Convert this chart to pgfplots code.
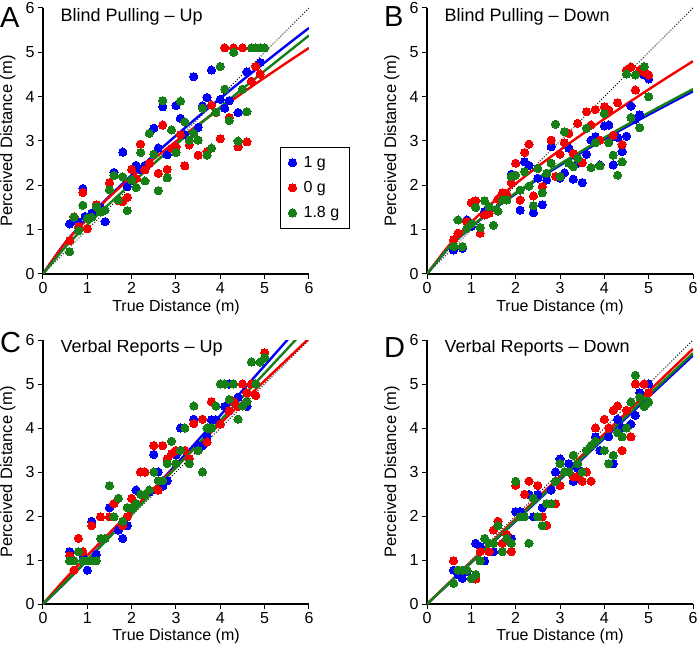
\documentclass[border=0pt]{standalone}
\usepackage{pgfplots}
\pgfplotsset{compat=1.18}
\usepackage{fontspec}
\setmainfont{Liberation Sans}
\definecolor{cb}{RGB}{0,0,245}
\definecolor{cr}{RGB}{245,0,0}
\definecolor{cg}{RGB}{22,128,22}
\pgfplotsset{
  panel/.style={
    scale only axis, width=266pt, height=266pt,
    xmin=0, xmax=6, ymin=0, ymax=6,
    axis lines*=left, axis line style={-, line width=1.1pt},
    xtick={0,...,6}, ytick={0,...,6},
    tick align=outside, major tick length=5pt,
    tick style={black, line width=1pt},
    /pgf/number format/assume math mode=true,
    tick label style={font=\fontsize{16}{16}\selectfont},
    xlabel={True Distance (m)}, ylabel={Perceived Distance (m)},
    every axis x label/.style={at={(axis description cs:0.5,-0.124)}, anchor=center, font=\fontsize{16}{16}\selectfont},
    every axis y label/.style={at={(axis description cs:-0.132,0.5)}, anchor=center, rotate=90, font=\fontsize{16.5}{16.5}\selectfont},
    clip=true,
  },
  dots/.style={only marks, mark=*, mark size=4.1pt, color=#1, mark options={fill=#1, draw=#1, line width=0pt}},
  fit/.style={no marks, color=#1, line width=2.4pt, smooth, forget plot},
  diag/.style={no marks, black, line width=1pt, dash pattern=on 1pt off 1.8pt, forget plot},
}
\newcommand{\ttl}[1]{\node[anchor=base west, font=\fontsize{18}{18}\selectfont] at (axis description cs:0.053,0.951) {#1};}
\begin{document}
\begin{tikzpicture}
\useasboundingbox (0,0) rectangle (697pt,649pt);
% ---------------- A ----------------
\begin{axis}[panel, at={(43pt,375pt)}, anchor=south west,
  legend style={at={(axis description cs:0.891,0.477)}, anchor=north west, draw=black, line width=0.8pt,
    font=\fontsize{16}{19}\selectfont, row sep=8.5pt, column sep=5pt, inner xsep=8pt, inner ysep=7pt, cells={anchor=west}}]
\addplot[dots=cb] coordinates {(0.6,1.13)(0.7,1.2)(0.8,1.18)(0.9,1.93)(0.95,1.3)(1.1,1.37)(1.3,1.5)(1.4,1.18)(1.6,2.29)(1.8,2.75)(1.9,1.97)(2.1,2.45)(2.2,2.35)(2.3,2.45)(2.5,3.29)(2.6,2.84)(2.7,3.77)(2.8,2.69)(3.0,3.8)(3.1,3.51)(3.2,3.14)(3.4,4.45)(3.5,3.31)(3.6,3.79)(3.7,3.98)(3.8,4.6)(4.0,3.94)(4.1,3.74)(4.2,3.91)(4.4,3.64)(4.6,4.56)(4.9,4.77)};
\addlegendentry{1 g}
\addplot[dots=cr] coordinates {(0.6,0.75)(0.7,1.29)(0.8,1.07)(0.9,1.84)(1.0,1.02)(1.2,1.56)(1.5,2.06)(1.7,1.65)(1.8,1.63)(1.9,1.73)(2.0,2.36)(2.1,2.15)(2.2,2.93)(2.3,2.35)(2.4,2.5)(2.6,2.27)(2.7,3.36)(2.8,2.36)(2.9,2.83)(3.0,2.87)(3.1,3.14)(3.2,2.44)(3.3,2.91)(3.5,2.68)(3.7,2.76)(3.8,3.81)(3.9,3.64)(4.0,3.05)(4.1,5.1)(4.3,5.1)(4.5,5.1)(4.2,3.53)(4.4,2.87)(4.6,2.98)(4.7,4.35)(4.8,4.68)(4.9,4.51)};
\addlegendentry{0 g}
\addplot[dots=cg] coordinates {(0.6,0.5)(0.7,1.28)(0.8,0.98)(0.9,1.55)(1.0,1.26)(1.1,1.28)(1.2,1.52)(1.3,1.4)(1.4,1.44)(1.5,1.9)(1.6,2.22)(1.7,1.67)(1.8,2.19)(1.9,1.43)(2.0,2.12)(2.1,1.95)(2.2,2.74)(2.3,2.1)(2.4,3.17)(2.5,2.7)(2.6,1.88)(2.7,3.91)(2.8,2.17)(2.9,3.25)(3.0,2.74)(3.1,3.9)(3.2,3.43)(3.3,3.02)(3.4,3.17)(3.5,3.02)(3.6,3.74)(3.7,2.68)(3.8,2.84)(3.9,3.65)(4.0,4.68)(4.1,4.17)(4.2,3.46)(4.3,5.0)(4.4,3.0)(4.5,4.17)(4.6,3.66)(4.7,5.1)(4.8,5.1)(4.9,5.1)(5.0,5.1)};
\addlegendentry{1.8 g}
\addplot[diag] coordinates {(0,0)(6,6)};
\addplot[fit=cb] coordinates {(0,0)(0.5,0.706)(1,1.254)(1.5,1.756)(2,2.230)(2.5,2.683)(3,3.122)(3.5,3.549)(4,3.964)(4.5,4.371)(5,4.771)(5.5,5.164)(6,5.55)};
\addplot[fit=cr] coordinates {(0,0)(0.5,0.70)(1,1.24)(1.5,1.74)(2,2.188)(2.5,2.598)(3,2.989)(3.5,3.367)(4,3.731)(4.5,4.085)(5,4.430)(5.5,4.768)(6,5.099)};
\addplot[fit=cg] coordinates {(0,0)(0.5,0.604)(1,1.112)(1.5,1.588)(2,2.046)(2.5,2.490)(3,2.923)(3.5,3.348)(4,3.765)(4.5,4.176)(5,4.582)(5.5,4.982)(6,5.380)};
\ttl{Blind Pulling – Up}
\end{axis}
% ---------------- B ----------------
\begin{axis}[panel, at={(427pt,375pt)}, anchor=south west]
\addplot[dots=cb] coordinates {(0.6,0.54)(0.7,0.92)(0.8,0.58)(0.9,1.22)(1.0,1.07)(1.3,1.41)(1.9,2.25)(2.1,1.44)(2.2,2.53)(2.3,2.45)(2.4,1.38)(2.5,2.16)(2.6,1.56)(2.7,2.12)(2.8,2.87)(3.0,2.16)(3.1,2.28)(3.2,2.84)(3.3,2.14)(3.4,2.5)(3.5,2.06)(3.6,2.7)(3.7,3.02)(3.8,3.1)(3.9,2.46)(4.0,3.34)(4.1,3.36)(4.2,3.1)(4.2,2.46)(4.3,3.08)(4.4,2.76)(4.5,3.11)(4.6,3.79)(4.7,3.49)(4.8,3.59)(4.9,4.49)(5.0,4.4)};
\addplot[dots=cr] coordinates {(0.6,0.77)(0.7,0.92)(0.8,0.62)(0.9,1.18)(1.0,1.61)(1.1,1.65)(1.2,0.92)(1.3,1.33)(1.4,1.37)(1.6,1.69)(1.7,1.83)(1.8,1.8)(1.9,2.06)(2.0,2.5)(2.1,1.67)(2.2,2.74)(2.3,2.93)(2.4,1.76)(2.6,1.97)(2.8,3.02)(2.9,2.2)(3.0,2.7)(3.1,2.96)(3.2,3.17)(3.3,2.72)(3.4,3.4)(3.5,2.51)(3.6,3.66)(3.7,3.36)(3.8,3.71)(3.9,3.02)(4.0,3.77)(4.1,3.7)(4.2,3.13)(4.3,3.86)(4.4,2.92)(4.5,4.6)(4.6,4.67)(4.7,4.15)(4.8,4.6)(4.9,4.55)(5.0,4.49)};
\addplot[dots=cg] coordinates {(0.6,0.62)(0.7,1.22)(0.8,0.62)(0.9,1.03)(1.0,1.13)(1.1,1.5)(1.2,1.05)(1.3,1.65)(1.4,1.52)(1.5,1.1)(1.6,1.42)(1.7,1.67)(1.8,1.67)(1.9,2.2)(2.0,2.23)(2.1,1.89)(2.2,2.31)(2.3,1.98)(2.4,1.54)(2.5,2.38)(2.6,1.83)(2.7,2.27)(2.8,2.5)(2.9,3.38)(3.0,2.2)(3.1,3.21)(3.2,2.5)(3.3,2.42)(3.4,2.61)(3.6,3.29)(3.7,2.4)(3.8,2.96)(3.9,2.44)(4.0,3.62)(4.1,2.96)(4.2,2.68)(4.3,2.23)(4.4,2.53)(4.5,4.51)(4.6,3.53)(4.7,4.49)(4.8,3.3)(4.9,4.68)(5.0,4.0)};
\addplot[diag] coordinates {(0,0)(6,6)};
\addplot[fit=cb] coordinates {(0,0)(0.5,0.60)(1,1.06)(1.5,1.457)(2,1.807)(2.5,2.137)(3,2.450)(3.5,2.750)(4,3.040)(4.5,3.320)(5,3.594)(5.5,3.859)(6,4.12)};
\addplot[fit=cr] coordinates {(0,0)(0.5,0.65)(1,1.17)(1.5,1.628)(2,2.037)(2.5,2.425)(3,2.795)(3.5,3.153)(4,3.498)(4.5,3.835)(5,4.163)(5.5,4.485)(6,4.80)};
\addplot[fit=cg] coordinates {(0,0)(0.5,0.61)(1,1.07)(1.5,1.474)(2,1.829)(2.5,2.162)(3,2.479)(3.5,2.783)(4,3.076)(4.5,3.361)(5,3.637)(5.5,3.906)(6,4.17)};
\ttl{Blind Pulling – Down}
\end{axis}
% ---------------- C ----------------
\begin{axis}[panel, height=264pt, at={(43pt,45pt)}, anchor=south west]
\addplot[dots=cb] coordinates {(0.6,1.19)(0.7,0.98)(0.9,1.11)(1.0,0.77)(1.1,1.88)(1.2,1.13)(1.5,2.19)(1.7,1.68)(1.8,1.49)(1.9,1.78)(2.1,2.59)(2.4,2.55)(2.5,3.4)(2.6,3.0)(2.7,2.68)(2.8,2.8)(3.0,3.38)(3.1,4.0)(3.4,4.2)(3.5,3.6)(3.6,3.6)(3.7,3.81)(3.8,4.19)(3.9,4.19)(4.1,4.49)(4.2,5.0)(4.4,4.7)(4.6,4.49)(4.7,5.0)};
\addplot[dots=cr] coordinates {(0.6,1.1)(0.7,0.77)(0.8,1.49)(0.9,1.19)(1.1,1.78)(1.3,1.98)(1.5,1.98)(1.6,2.28)(1.8,1.78)(1.9,1.98)(2.0,2.4)(2.2,3.0)(2.3,3.0)(2.5,3.6)(2.6,2.59)(2.7,3.6)(2.8,3.3)(2.9,3.42)(3.0,3.49)(3.2,3.49)(3.3,3.3)(3.4,4.1)(3.6,4.2)(3.7,3.68)(3.8,4.6)(4.0,4.09)(4.2,4.39)(4.3,4.6)(4.4,4.49)(4.5,5.0)(4.6,4.8)(4.7,5.0)(4.8,4.74)(5.0,5.71)};
\addplot[dots=cg] coordinates {(0.6,0.98)(0.7,0.98)(0.8,1.19)(0.9,0.98)(1.0,0.98)(1.1,0.98)(1.2,0.98)(1.3,1.49)(1.4,1.49)(1.5,2.69)(1.6,1.98)(1.7,2.4)(1.8,1.88)(1.9,2.19)(2.0,2.19)(2.1,2.28)(2.2,2.49)(2.3,2.49)(2.4,2.59)(2.5,3.0)(2.6,2.8)(2.7,2.8)(2.8,3.19)(2.9,3.7)(3.0,3.19)(3.1,3.49)(3.2,4.0)(3.3,3.19)(3.4,4.5)(3.5,3.49)(3.6,3.0)(3.7,4.0)(3.8,4.0)(3.9,4.5)(4.0,5.0)(4.1,5.0)(4.2,4.65)(4.3,5.0)(4.4,4.2)(4.5,4.5)(4.6,4.6)(4.7,5.5)(4.8,5.0)(4.9,5.5)(5.0,5.6)};
\addplot[diag] coordinates {(0,0)(6,6)};
\addplot[fit=cb] coordinates {(0,0)(0.5,0.483)(1,1.0)(2,2.071)(3,3.169)(4,4.287)(5,5.419)(5.5,5.989)(6,6.563)};
\addplot[fit=cr] coordinates {(0,0)(0.5,0.569)(1,1.10)(2,2.125)(3,3.124)(4,4.105)(5,5.075)(6,6.035)};
\addplot[fit=cg] coordinates {(0,0)(0.5,0.490)(1,1.0)(2,2.042)(3,3.101)(4,4.170)(5,5.247)(5.5,5.788)(6,6.331)};
\ttl{Verbal Reports – Up}
\end{axis}
% ---------------- D ----------------
\begin{axis}[panel, height=264pt, at={(427pt,45pt)}, anchor=south west]
\addplot[dots=cb] coordinates {(0.6,0.77)(0.7,0.67)(0.8,0.58)(0.9,0.73)(1.1,1.38)(1.2,1.3)(1.3,0.98)(1.5,1.19)(1.9,1.49)(2.0,2.1)(2.1,2.1)(2.3,2.49)(2.4,1.98)(2.5,2.49)(2.6,2.19)(2.8,2.59)(2.9,3.0)(3.0,3.3)(3.2,3.19)(3.3,2.79)(3.4,3.08)(3.8,3.8)(3.9,3.49)(4.1,3.8)(4.2,3.19)(4.3,4.2)(4.4,4.0)(4.6,4.09)(4.7,4.29)(4.8,4.8)(5.0,5.0)};
\addplot[dots=cr] coordinates {(0.6,0.98)(0.7,0.77)(1.1,0.57)(1.2,1.19)(1.4,1.19)(1.5,1.68)(1.6,1.88)(1.7,1.38)(1.8,1.58)(1.9,1.19)(2.0,2.7)(2.2,2.49)(2.3,2.79)(2.5,2.69)(2.6,1.98)(2.7,1.79)(2.9,2.28)(3.0,2.69)(3.3,2.89)(3.4,2.89)(3.5,2.79)(3.6,3.0)(3.7,2.79)(3.8,4.0)(4.0,4.2)(4.1,4.0)(4.2,4.4)(4.3,4.5)(4.4,3.49)(4.5,4.4)(4.6,3.8)(4.7,5.0)(4.9,5.0)(5.0,4.8)};
\addplot[dots=cg] coordinates {(0.6,0.47)(0.7,0.77)(0.8,0.77)(0.9,0.77)(1.0,0.58)(1.1,0.67)(1.2,0.98)(1.3,1.49)(1.4,1.38)(1.5,1.38)(1.6,1.78)(1.7,1.19)(1.8,1.49)(1.9,1.38)(2.0,2.79)(2.1,1.98)(2.2,1.98)(2.3,1.38)(2.4,2.4)(2.5,1.98)(2.6,1.78)(2.7,2.28)(2.8,2.28)(2.9,2.79)(3.0,3.19)(3.1,3.0)(3.2,3.0)(3.3,3.38)(3.4,3.19)(3.5,3.0)(3.6,3.49)(3.7,3.6)(3.8,3.7)(4.0,3.49)(4.1,3.19)(4.2,3.38)(4.3,3.89)(4.4,3.8)(4.5,4.0)(4.6,4.59)(4.7,5.2)(4.8,4.7)(4.9,4.49)(5.0,4.59)};
\addplot[diag] coordinates {(0,0)(6,6)};
\addplot[fit=cb] coordinates {(0,0)(3,2.825)(6,5.65)};
\addplot[fit=cr] coordinates {(0,0)(3,2.9)(6,5.8)};
\addplot[fit=cg] coordinates {(0,0)(3,2.85)(6,5.7)};
\ttl{Verbal Reports – Down}
\end{axis}
% panel letters
\node[anchor=base west, inner sep=0pt, font=\fontsize{29}{29}\selectfont] at (0pt,621pt) {A};
\node[anchor=base west, inner sep=0pt, font=\fontsize{29}{29}\selectfont] at (384pt,622pt) {B};
\node[anchor=base west, inner sep=0pt, font=\fontsize{29}{29}\selectfont] at (0pt,296pt) {C};
\node[anchor=base west, inner sep=0pt, font=\fontsize{29}{29}\selectfont] at (384pt,291pt) {D};
\end{tikzpicture}
\end{document}
